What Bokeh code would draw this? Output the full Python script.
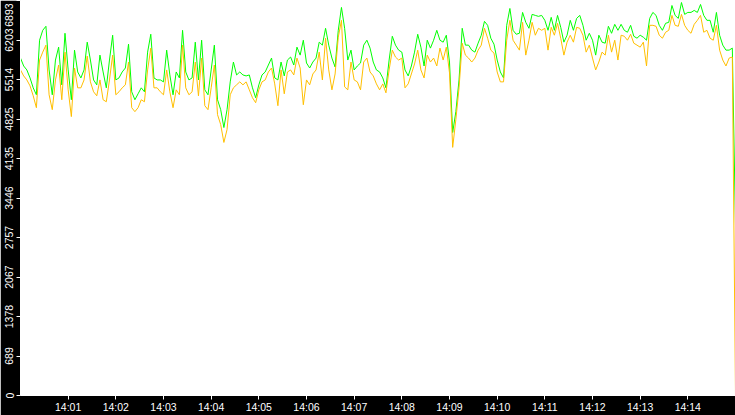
import numpy as np
import pandas as pd
from bokeh.plotting import figure
from bokeh.models import Range1d, FixedTicker, DatetimeTickFormatter, ColumnDataSource
from bokeh.embed import file_html
from bokeh.resources import INLINE

# ---------------- data ----------------
DATE = "2024-01-01"
START_TIME = "14:00:00"
END_TIME = "14:15:00"
SAMPLE_SECONDS = 4

x_tick_labels = ["14:01", "14:02", "14:03", "14:04", "14:05", "14:06", "14:07",
                 "14:08", "14:09", "14:10", "14:11", "14:12", "14:13", "14:14"]
y_tick_values = [0, 689, 1378, 2067, 2757, 3446, 4135, 4825, 5514, 6203, 6893]
y_max = 6893

green_values = [
    5888, 5750, 5681, 5542, 5369, 5248, 6200, 6373, 6443, 5681,
    5248, 5854, 6079, 5421, 6321, 5681, 5161, 6027, 5646, 5542,
    5681, 6166, 5854, 5507, 5421, 5940, 5646, 5369, 5854, 6287,
    5507, 5542, 5646, 5715, 6131, 5300, 5161, 5265, 5369, 5300,
    5992, 6304, 5542, 5507, 5507, 5473, 6027, 5594, 5248, 5646,
    5542, 6373, 5646, 5507, 5542, 6166, 5507, 6200, 5334, 5248,
    5681, 6114, 5161, 4988, 4676, 4988, 5473, 5819, 5594, 5646,
    5594, 5577, 5594, 5369,
    5196, 5421, 5594, 5646, 5767, 5888, 5542, 5507, 5819, 5577,
    5854, 5906, 5767, 6079, 5940, 6200, 5802, 5715, 5819, 5888,
    6166, 6114, 6408, 6114, 5888, 5733, 6373, 6772, 6408, 5854,
    6027, 5681, 5750, 5802, 6114, 6200, 6062, 5819, 5681, 5646,
    5542, 5369, 5854, 6269, 6114, 6027, 5992, 5681, 5577, 5750,
    5992, 6304, 6079, 5750, 6200, 6062, 6200, 6373, 6200, 6166,
    6287, 5819, 4589,
    4953, 5507, 6408, 6114, 6114, 6027, 5992, 6148, 6287, 6529,
    6460, 6235, 6131, 5854, 5646, 5542, 6460, 6754, 6373, 6304,
    6321, 6685, 6512, 6408, 6651, 6633, 6616, 6633, 6547, 6373,
    6599, 6373, 6633, 6425, 6166, 6287, 6547, 6373, 6581, 6633,
    6460, 6200, 6321, 6200, 5940, 6287, 6166, 6148, 6443, 6321,
    6477, 6373, 6477, 6373, 6339, 6460, 6269, 6235, 6287, 6252,
    6200, 6581, 6685, 6633, 6460, 6373, 6495, 6512, 6806, 6633,
    6581, 6858, 6651, 6685, 6685, 6720, 6685, 6824, 6633, 6547,
    6547, 6339, 6685, 6287, 6114, 6027, 6027, 6062, 2961,
]

orange_values = [
    5681, 5577, 5507, 5403, 5230, 5022, 5854, 5992, 6114, 5248,
    4988, 5507, 5767, 5161, 5992, 5334, 4867, 5715, 5369, 5369,
    5507, 5923, 5473, 5300, 5230, 5507, 5161, 5126, 5507, 5940,
    5248, 5300, 5369, 5421, 5819, 5022, 4953, 5022, 5161, 5126,
    5681, 6062, 5369, 5369, 5300, 5248, 5681, 5300, 5022, 5334,
    5248, 6114, 5369, 5248, 5300, 5819, 5230, 5888, 5057, 4988,
    5369, 5767, 4901, 4728, 4416, 4641, 5248, 5369, 5421, 5473,
    5421, 5473, 5334, 5196,
    5109, 5334, 5473, 5507, 5646, 5715, 5438, 5057, 5681, 5265,
    5646, 5681, 5594, 5888, 5715, 5074, 5507, 5421, 5611, 5681,
    5992, 5507, 6235, 5681, 5334, 5611, 6252, 6547, 5386, 5334,
    5819, 5507, 5473, 5334, 5819, 5888, 5646, 5577, 5438, 5334,
    5438, 5282, 5681, 6027, 5906, 5854, 5888, 5369, 5438, 5611,
    5785, 6027, 5681, 5542, 5940, 5819, 5888, 5750, 6062, 5854,
    6079, 5629, 4330,
    4815, 5369, 6148, 5940, 5888, 5819, 5888, 6027, 6114, 6408,
    6235, 6027, 5975, 5646, 5473, 5473, 6200, 6547, 6200, 6114,
    6027, 6512, 5940, 6200, 6512, 6287, 6408, 6373, 6408, 6027,
    6425, 6287, 6495, 6235, 5940, 6166, 6287, 6166, 6425, 6408,
    6287, 5992, 6114, 5888, 5681, 5819, 5992, 5940, 6287, 5992,
    6200, 5854, 6287, 6269, 6200, 6304, 6148, 6114, 6079, 6166,
    5750, 6460, 6460, 6443, 6287, 6235, 6339, 6373, 6633, 6460,
    6443, 6651, 6460, 6373, 6321, 6477, 6547, 6633, 6339, 6373,
    6235, 6200, 6460, 6027, 5854, 5750, 5888, 5906, 0,
]

# ---------------- build ----------------
t0 = pd.Timestamp(f"{DATE} {START_TIME}")
t1 = pd.Timestamp(f"{DATE} {END_TIME}")
times = [t0 + pd.Timedelta(seconds=SAMPLE_SECONDS * i) for i in range(len(green_values))]
source = ColumnDataSource(data=dict(t=times, green=green_values, orange=orange_values))

def ms(ts):
    return ts.value / 1e6

x_ticks = [ms(pd.Timestamp(f"{DATE} {lbl}:00")) for lbl in x_tick_labels]

p = figure(width=735, height=415, x_axis_type="datetime",
           output_backend="svg", toolbar_location=None,
           x_range=Range1d(ms(t0), ms(t1)), y_range=Range1d(0, y_max),
           min_border_left=0, min_border_right=0, min_border_top=0, min_border_bottom=0,
           background_fill_color="white", border_fill_color="black",
           outline_line_color=None)

p.xgrid.visible = False
p.ygrid.visible = False

p.line("t", "green", source=source, line_color="#00ff00", line_width=1)
p.line("t", "orange", source=source, line_color="#ffbf00", line_width=1)

fmt = "%H:%M"
p.xaxis.ticker = FixedTicker(ticks=x_ticks)
p.xaxis.formatter = DatetimeTickFormatter(seconds=fmt, minsec=fmt, minutes=fmt,
                                          hourmin=fmt, hours=fmt)
p.yaxis.ticker = FixedTicker(ticks=y_tick_values)
p.yaxis.major_label_orientation = "vertical"
nb = "\u00a0"
p.yaxis.major_label_overrides = {y_tick_values[-1]: str(y_tick_values[-1]) + nb}

for ax in (p.xaxis, p.yaxis):
    ax.axis_line_color = "white"
    ax.major_tick_line_color = "white"
    ax.minor_tick_line_color = None
    ax.major_tick_out = 4
    ax.major_tick_in = 0
    ax.major_label_standoff = 1
    ax.major_label_text_color = "white"
    ax.major_label_text_font = "Liberation Sans"
    ax.major_label_text_font_size = "10.5px"

open("out.html", "w").write(file_html(p, INLINE))
